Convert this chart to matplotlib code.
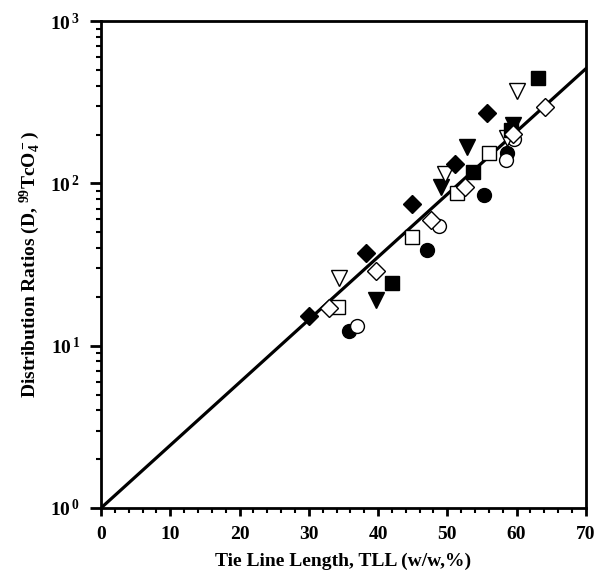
import matplotlib
matplotlib.use("Agg")
import matplotlib.pyplot as plt
from matplotlib.ticker import FixedLocator, FixedFormatter, LogLocator, NullFormatter, MultipleLocator
import numpy as np

plt.rcParams['font.family'] = 'Liberation Serif'
plt.rcParams['font.weight'] = 'bold'
plt.rcParams['mathtext.fontset'] = 'custom'
plt.rcParams['mathtext.rm'] = 'Liberation Serif:bold'
plt.rcParams['mathtext.it'] = 'Liberation Serif:bold'
plt.rcParams['mathtext.bf'] = 'Liberation Serif:bold'

# data (TLL %, distribution ratio D)
fc_x = [35.8, 47.1, 55.3, 58.6]
fc_y = [12.3, 38.9, 85, 155]
oc_x = [36.9, 48.8, 58.4, 59.6]
oc_y = [13.2, 54.6, 139, 188]
ft_x = [39.7, 49.1, 52.8, 59.5]
ft_y = [19.1, 95, 167, 228]
ot_x = [34.4, 49.6, 60.0, 58.6]
ot_y = [26.1, 114, 371, 192]
fs_x = [42.0, 53.7, 63.1, 59.2]
fs_y = [24.3, 117, 445, 215]
os_x = [34.2, 44.9, 51.4, 56.0]
os_y = [17.3, 46.8, 87, 154]
fd_x = [30.0, 38.2, 44.9, 51.1, 55.7]
fd_y = [15.2, 37.3, 75, 132, 271]
od_x = [32.9, 39.7, 47.6, 52.5, 59.5, 64.1]
od_y = [17.1, 28.9, 59.5, 95, 201, 295]

# regression line end points
fit_x = [0, 70]
fit_y = [1, 510]

fig = plt.figure(figsize=(5.96, 5.74), dpi=100)
ax = fig.add_axes([0.1695, 0.115, 0.8135, 0.848])

ax.plot(fit_x, fit_y, color='black', lw=2.3, zorder=1)

ms = 10
ax.plot(fc_x, fc_y, 'o', ms=ms, mfc='black', mec='black', ls='none', zorder=3)
ax.plot(oc_x, oc_y, 'o', ms=ms, mfc='white', mec='black', mew=1.0, ls='none', zorder=3)
ax.plot(ft_x, ft_y, 'v', ms=ms+1, mfc='black', mec='black', ls='none', zorder=3)
ax.plot(ot_x, ot_y, 'v', ms=ms+1, mfc='white', mec='black', mew=1.0, ls='none', zorder=3)
ax.plot(fs_x, fs_y, 's', ms=ms-0.5, mfc='black', mec='black', ls='none', zorder=3)
ax.plot(os_x, os_y, 's', ms=ms-0.5, mfc='white', mec='black', mew=1.0, ls='none', zorder=3)
ax.plot(fd_x, fd_y, 'D', ms=ms-1, mfc='black', mec='black', ls='none', zorder=4)
ax.plot(od_x, od_y, 'D', ms=ms-1, mfc='white', mec='black', mew=1.0, ls='none', zorder=4)

ax.set_yscale('log')
ax.set_xlim(0, 70)
ax.set_ylim(1, 1000)

ax.xaxis.set_major_locator(MultipleLocator(10))
ax.xaxis.set_minor_locator(MultipleLocator(2))
ax.yaxis.set_major_locator(FixedLocator([1, 10, 100, 1000]))
ax.yaxis.set_major_formatter(FixedFormatter([r'$10^{\,0}$', r'$10^{\,1}$', r'$10^{\,2}$', r'$10^{\,3}$']))
ax.yaxis.set_minor_locator(LogLocator(base=10, subs=np.arange(2, 10)))
ax.yaxis.set_minor_formatter(NullFormatter())

for s in ax.spines.values():
    s.set_linewidth(2)
ax.tick_params(which='major', direction='out', length=6, width=2, labelsize=14, pad=7)
ax.tick_params(which='minor', direction='out', length=3.5, width=1.5)
ax.tick_params(axis='y', which='major', length=8)

ax.set_xlabel('Tie Line Length, TLL (w/w,%)', fontsize=14, fontweight='bold', labelpad=7)
ax.set_ylabel(r'Distribution Ratios (D, $^{99}$TcO$_4^-$)', fontsize=14, fontweight='bold', labelpad=5)

fig.savefig('out.png', dpi=100)
